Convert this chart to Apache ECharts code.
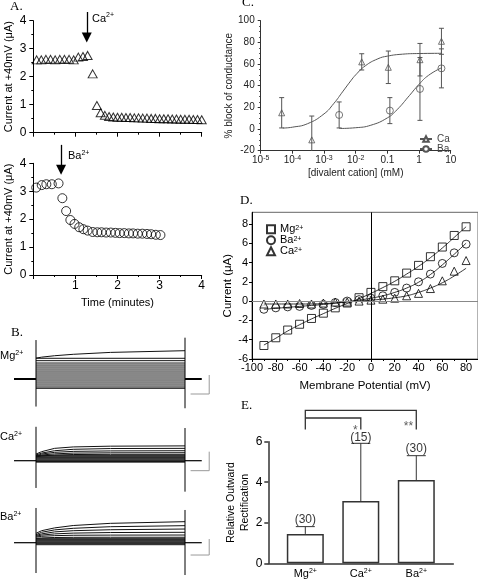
<!DOCTYPE html>
<html><head><meta charset="utf-8">
<script src="https://cdn.jsdelivr.net/npm/echarts@6/dist/echarts.min.js"></script>
<style>html,body{margin:0;padding:0;background:#fff}#c{width:478px;height:586px}</style>
</head><body><div id="c"></div>
<script>
const FONT = '"Liberation Sans", Arial, sans-serif';
const SERIF = '"Liberation Serif", "Times New Roman", serif';

// ---------- Panel A ----------
const caTime = [0.08,0.19,0.3,0.41,0.52,0.63,0.74,0.85,0.96,1.07,1.18,1.29,1.41,1.51,1.6,1.7,1.8,1.9,2.0,2.1,2.2,2.3,2.4,2.5,2.6,2.7,2.8,2.9,3.0,3.1,3.2,3.3,3.4,3.5,3.6,3.7,3.8,3.9,4.0];
const caCurrent = [2.6,2.6,2.62,2.62,2.6,2.62,2.62,2.62,2.6,2.7,2.72,2.76,2.1,0.97,0.71,0.62,0.58,0.56,0.55,0.55,0.54,0.54,0.53,0.53,0.52,0.52,0.51,0.51,0.5,0.5,0.5,0.49,0.49,0.48,0.48,0.48,0.47,0.47,0.46];
const baTime = [0.07,0.2,0.31,0.44,0.6,0.69,0.78,0.88,0.98,1.09,1.19,1.29,1.41,1.52,1.62,1.73,1.84,1.95,2.05,2.16,2.27,2.37,2.48,2.59,2.7,2.8,2.91,3.02];
const baCurrent = [3.13,3.22,3.25,3.25,3.28,2.75,2.29,1.97,1.83,1.71,1.64,1.59,1.54,1.53,1.53,1.52,1.52,1.51,1.5,1.5,1.49,1.49,1.48,1.48,1.47,1.46,1.44,1.43];
const caApplied = 1.27;   // min
const baApplied = 0.66;   // min

// ---------- Panel B (current traces, µA vs ms) ----------
const traceTimes = [0, 30, 100, 200, 400, 800];
const mgRising = [[2.2, 2.3, 2.45, 2.6, 2.8, 2.98]];
const mgSteady = [2.18,1.93,1.68,1.47,1.26,1.05,0.84,0.63,0.42,0.21,0,-0.21,-0.42,-0.63,-0.84,-0.98];
const caRising = [[0.7,0.95,1.3,1.45,1.53,1.56],[0.6,0.8,1.05,1.2,1.28,1.3],[0.5,0.7,0.88,0.98,1.03,1.05],[0.45,0.6,0.72,0.8,0.83,0.84],[0.4,0.5,0.6,0.65,0.67,0.67]];
const caSteady = [0.53,0.42,0.32,0.21,0.1,0,-0.08,-0.15];
const baRising = [[1.17,1.5,1.85,2.15,2.42,2.63],[1.0,1.3,1.6,1.8,2.0,2.13],[0.9,1.1,1.35,1.5,1.62,1.71],[0.8,0.95,1.1,1.2,1.27,1.3],[0.7,0.8,0.88,0.93,0.95,0.96],[0.55,0.6,0.65,0.67,0.68,0.68]];
const baSteady = [0.5,0.38,0.25,0.12,0,-0.12,-0.25];
const mgEdges = [[4.1,-2.9],[4.35,-3.08]];
const caEdges = [[3.57,-2.87],[3.44,-3.26]];
const baEdges = [[4.34,-3.79],[4.09,-4.04]];
const pulseEnd = 800, holdStart = -118, holdEnd = 890;
const scaleMs = 100, scaleUA = 2;
const mgScaleBase = -1.58, caScaleBase = -1.05, baScaleBase = -1.54;

// ---------- Panel C ----------
const caConc = [4.6e-5, 4.1e-4, 0.0155, 0.107, 1.07, 5.1];
const caBlock = [15, -10, 62, 57, 64, 81];
const caBlockErr = [14, 22, 7.5, 15, 15, 12];
const baConc = [0.003, 0.12, 1.07, 5.1];
const baBlock = [13, 17, 37, 56];
const baBlockErr = [12, 12, 29, 18];
const caFitConc = [5e-5,1e-4,3e-4,1e-3,2e-3,4e-3,7e-3,0.01,0.02,0.05,0.1,0.3,1,5.1];
const caFitBlock = [0.9,1.7,4.9,14,23.3,35,44.5,50,58.3,64.8,67.3,69.1,69.7,69.9];
const baFitConc = [0.003,0.01,0.03,0.1,0.2,0.5,1,2,5.1];
const baFitBlock = [0.5,1.2,3.5,10.3,17.7,31,41.3,49.6,56.5];

// ---------- Panel D ----------
const vm = [-90,-80,-70,-60,-50,-40,-30,-20,-10,0,10,20,30,40,50,60,70,80];
const ivMg = [-4.6,-3.8,-3.0,-2.4,-1.8,-1.25,-0.7,-0.2,0.35,0.9,1.5,2.1,2.9,3.7,4.6,5.6,6.8,7.7];
const ivBa = [-0.85,-0.7,-0.6,-0.55,-0.45,-0.35,-0.15,0,0.15,0.3,0.55,0.9,1.35,2.0,2.8,3.9,5.0,5.9];
const ivCa = [-0.3,-0.3,-0.3,-0.25,-0.3,-0.2,-0.1,-0.1,0,0.1,0.2,0.3,0.55,0.8,1.3,2.1,3.1,4.2];
const fitMg = [-4.55,-3.85,-3.1,-2.45,-1.85,-1.3,-0.75,-0.25,0.25,0.8,1.4,2.05,2.8,3.6,4.5,5.5,6.6,7.7];
const fitBa = [-0.85,-0.75,-0.65,-0.55,-0.45,-0.35,-0.2,-0.05,0.1,0.3,0.55,0.9,1.35,1.95,2.75,3.75,4.85,6.0];
const fitCa = [-0.3,-0.3,-0.3,-0.3,-0.3,-0.25,-0.2,-0.1,0,0.1,0.2,0.35,0.55,0.9,1.35,1.9,2.6,3.4];

// ---------- Panel E ----------
const eCats = ['Mg','Ca','Ba'];
const eValues = [1.45, 3.07, 4.11];
const eErr = [0.36, 2.85, 1.2];
const eN = ['(30)','(15)','(30)'];
const eNLevel = [2.14, 6.2, 5.67];
const bracketOuter = [[0,6.6],[0,7.55],[2,7.55],[2,6.6]];
const bracketInner = [[0,7.17],[1,7.17],[1,6.6]];
const stars = [[0.9,6.53,'*'],[1.86,6.74,'**']];

// ---------- helpers ----------
function sup(size, lh, color) {
  const raise = Math.round(size * 0.36);
  return {
    b: {fontSize: size, lineHeight: lh, fontFamily: FONT, color: color || '#000'},
    s: {fontSize: Math.round(size * 0.65), lineHeight: Math.max(1, lh - 2 * raise), verticalAlign: 'top', fontFamily: FONT, color: color || '#000'}
  };
}
function traceSeries(grid, rising, steady, edges, scaleBase, baseWidth) {
  const traces = [];
  rising.forEach(r => traces.push({coords: traceTimes.map((t, i) => [t, r[i]])}));
  steady.forEach(v => traces.push({coords: [[0, v], [pulseEnd, v]]}));
  const common = {type: 'lines', coordinateSystem: 'cartesian2d', xAxisIndex: grid, yAxisIndex: grid, polyline: true, silent: true, clip: false};
  return [
    Object.assign({}, common, {data: traces, lineStyle: {color: '#111', width: 1, opacity: 1}}),
    Object.assign({}, common, {data: [
      {coords: [[0, edges[0][0]], [0, edges[0][1]]]},
      {coords: [[pulseEnd, edges[1][0]], [pulseEnd, edges[1][1]]]}
    ], lineStyle: {color: '#000', width: 1, opacity: 1}}),
    Object.assign({}, common, {data: [
      {coords: [[holdStart, 0], [0, 0]]},
      {coords: [[pulseEnd, 0], [holdEnd, 0]]}
    ], lineStyle: {color: '#000', width: baseWidth, opacity: 1}}),
    Object.assign({}, common, {data: [
      {coords: [[930 - scaleMs, scaleBase], [930, scaleBase], [930, scaleBase + scaleUA]]}
    ], lineStyle: {color: '#999', width: 1, opacity: 1}})
  ];
}
function errRender(capHalf, color, twoSided) {
  return function (params, api) {
    const x = api.value(0), y = api.value(1), e = api.value(2);
    const p1 = api.coord([x, y + e]);
    const p2 = twoSided ? api.coord([x, y - e]) : api.coord([x, y]);
    const st = {stroke: color, lineWidth: 1};
    const ch = [
      {type: 'line', shape: {x1: p1[0], y1: p1[1], x2: p2[0], y2: p2[1]}, style: st},
      {type: 'line', shape: {x1: p1[0] - capHalf, y1: p1[1], x2: p1[0] + capHalf, y2: p1[1]}, style: st}
    ];
    if (twoSided) ch.push({type: 'line', shape: {x1: p2[0] - capHalf, y1: p2[1], x2: p2[0] + capHalf, y2: p2[1]}, style: st});
    return {type: 'group', children: ch};
  };
}

function aX(grid, labels) {
  return {gridIndex: grid, type: 'value', min: 0, max: 4, interval: 1,
    axisLine: {onZero: false, lineStyle: {color: '#000'}}, axisTick: {show: true, length: 4, lineStyle: {color: '#000'}},
    minorTick: {show: true, splitNumber: 2, length: 2, lineStyle: {color: '#000'}},
    splitLine: {show: false},
    axisLabel: labels ? {fontSize: 12, color: '#000', margin: 5, showMinLabel: false, fontFamily: FONT} : {show: false},
    name: labels ? 'Time (minutes)' : '', nameLocation: 'middle', nameGap: 22,
    nameTextStyle: {fontSize: 11, color: '#000', fontFamily: FONT}};
}
function aY(grid) {
  return {gridIndex: grid, type: 'value', min: 0, max: 4, interval: 1,
    axisLine: {show: true, onZero: false, lineStyle: {color: '#000'}}, axisTick: {show: true, length: 4, lineStyle: {color: '#000'}},
    minorTick: {show: true, splitNumber: 2, length: 2, lineStyle: {color: '#000'}},
    splitLine: {show: false},
    axisLabel: {fontSize: 12, color: '#000', margin: 7, fontFamily: FONT},
    name: 'Current at +40mV (\u03bcA)', nameLocation: 'middle', nameGap: 19,
    nameTextStyle: {fontSize: 11, color: '#000', fontFamily: FONT}};
}
function hidden(grid, min, max) { return {gridIndex: grid, type: 'value', min: min, max: max, show: false}; }

const C_COL = '#555';
const option = {
  animation: false,
  textStyle: {fontFamily: FONT},
  grid: [
    {left: 33.3, top: 20.7, width: 168.4, height: 112},
    {left: 33.3, top: 163.3, width: 168.4, height: 111.7},
    {left: 13.65, top: 331.5, width: 208.6, height: 85.5},
    {left: 13.65, top: 413.2, width: 208.6, height: 85.5},
    {left: 13.65, top: 498.7, width: 208.6, height: 84},
    {left: 260.7, top: 20.7, width: 190, height: 130},
    {left: 252, top: 212.3, width: 226, height: 146.7, show: true, borderColor: '#666', borderWidth: 1},
    {left: 268.3, top: 441.7, width: 185, height: 121.6}
  ],
  xAxis: [
    aX(0, false), aX(1, true),
    hidden(2, -120, 1000), hidden(3, -120, 1000), hidden(4, -120, 1000),
    {gridIndex: 5, type: 'log', logBase: 10, min: 1e-5, max: 10,
      axisLine: {onZero: false, lineStyle: {color: '#333'}}, axisTick: {length: 3, lineStyle: {color: '#333'}},
      splitLine: {show: false}, minorTick: {show: false},
      axisLabel: {margin: 4, color: '#222', rich: sup(10, 12, '#222'), formatter: function (v) {
        const e = Math.round(Math.log10(v));
        if (e <= -2) return '{b|10}{s|' + e + '}';
        if (e === -1) return '{b|0.1}';
        if (e === 0) return '{b|1}';
        return '{b|10}';
      }},
      name: '[divalent cation] (mM)', nameLocation: 'middle', nameGap: 18,
      nameTextStyle: {fontSize: 10, color: '#222'}},
    {gridIndex: 6, type: 'value', min: -100, max: 90, interval: 20,
      axisLine: {onZero: false, lineStyle: {color: '#000'}}, axisTick: {length: 3, lineStyle: {color: '#000'}},
      minorTick: {show: true, splitNumber: 2, length: 2, lineStyle: {color: '#000'}},
      splitLine: {show: false},
      axisLabel: {fontSize: 11, color: '#000', margin: 3, showMaxLabel: false},
      name: 'Membrane Potential (mV)', nameLocation: 'middle', nameGap: 21,
      nameTextStyle: {fontSize: 11.5, color: '#000'}},
    {gridIndex: 7, type: 'value', min: -0.667, max: 2.667,
      axisLine: {onZero: false, lineStyle: {color: '#333', width: 1.5}}, axisTick: {show: false},
      splitLine: {show: false},
      axisLabel: {customValues: [0, 1, 2], margin: 4, rich: sup(11, 13, '#000'),
        formatter: function (v) { return '{b|' + eCats[Math.round(v)] + '}{s|2+}'; }}}
  ],
  yAxis: [
    aY(0), aY(1),
    hidden(2, -4, 5), hidden(3, -4, 5), hidden(4, -5, 5.5),
    {gridIndex: 5, type: 'value', min: -20, max: 100, interval: 20,
      axisLine: {show: true, onZero: false, lineStyle: {color: '#333'}}, axisTick: {show: true, length: 3, lineStyle: {color: '#333'}},
      minorTick: {show: true, splitNumber: 4, length: 1.5, lineStyle: {color: '#333'}},
      splitLine: {show: false},
      axisLabel: {fontSize: 10, color: '#222', margin: 6},
      name: '% block of conductance', nameLocation: 'middle', nameGap: 25,
      nameTextStyle: {fontSize: 10, color: '#222'}},
    {gridIndex: 6, type: 'value', min: -6, max: 9.2, interval: 2,
      axisLine: {show: true, onZero: false, lineStyle: {color: '#000'}}, axisTick: {show: true, length: 3, lineStyle: {color: '#000'}},
      splitLine: {show: false},
      axisLabel: {fontSize: 11, color: '#000', margin: 4, showMaxLabel: false},
      name: 'Current (\u03bcA)', nameLocation: 'middle', nameGap: 15,
      nameTextStyle: {fontSize: 11.5, color: '#000'}},
    {gridIndex: 7, type: 'value', min: 0, max: 6, interval: 2,
      axisLine: {show: true, onZero: false, lineStyle: {color: '#333', width: 1.5}}, axisTick: {show: true, length: 4, lineStyle: {color: '#333', width: 1.5}},
      splitLine: {show: false},
      axisLabel: {fontSize: 12, color: '#000', margin: 6},
      name: 'Relative Outward\nRectification', nameLocation: 'middle', nameGap: 13,
      nameTextStyle: {fontSize: 10.5, color: '#000', lineHeight: 14}}
  ],
  legend: [
    {data: ['Ca', 'Ba'], orient: 'vertical', left: 414, top: 129, itemWidth: 12, itemHeight: 7, itemGap: 0,
      selectedMode: false, textStyle: {fontSize: 10, color: '#444', lineHeight: 8}},
    {data: ['Mg', 'Ba ', 'Ca '], orient: 'vertical', left: 261, top: 218.8, itemWidth: 8, itemHeight: 8, itemGap: 0,
      selectedMode: false, formatter: function (n) { return '{b|' + n.trim() + '}{s|2+}'; },
      textStyle: {rich: sup(11, 9, '#000')}}
  ],
  series: [
    // A
    {type: 'scatter', xAxisIndex: 0, yAxisIndex: 0, data: caTime.map((t, i) => [t, caCurrent[i]]), symbol: 'triangle', symbolSize: [9, 8],
      itemStyle: {color: 'rgba(0,0,0,0)', borderColor: '#000', borderWidth: 1}, clip: false, silent: true},
    {type: 'scatter', xAxisIndex: 1, yAxisIndex: 1, data: baTime.map((t, i) => [t, baCurrent[i]]), symbol: 'circle', symbolSize: 9,
      itemStyle: {color: 'rgba(0,0,0,0)', borderColor: '#000', borderWidth: 1}, clip: false, silent: true},
    {type: 'lines', coordinateSystem: 'cartesian2d', xAxisIndex: 0, yAxisIndex: 0, clip: false, silent: true,
      data: [{coords: [[caApplied, 4.31], [caApplied, 3.4]]}], symbol: ['none', 'triangle'], symbolSize: 10,
      lineStyle: {color: '#000', width: 1.3, opacity: 1}},
    {type: 'lines', coordinateSystem: 'cartesian2d', xAxisIndex: 1, yAxisIndex: 1, clip: false, silent: true,
      data: [{coords: [[baApplied, 4.66], [baApplied, 3.77]]}], symbol: ['none', 'triangle'], symbolSize: 10,
      lineStyle: {color: '#000', width: 1.3, opacity: 1}},
    // B
    ...traceSeries(2, mgRising, mgSteady, mgEdges, mgScaleBase, 2),
    ...traceSeries(3, caRising, caSteady, caEdges, caScaleBase, 1.2),
    ...traceSeries(4, baRising, baSteady, baEdges, baScaleBase, 1.2),
    // C
    {type: 'custom', xAxisIndex: 5, yAxisIndex: 5, clip: true, silent: true, renderItem: errRender(2.5, C_COL, true),
      data: caConc.map((c, i) => [c, caBlock[i], caBlockErr[i]]), encode: {x: 0, y: 1}},
    {type: 'custom', xAxisIndex: 5, yAxisIndex: 5, clip: true, silent: true, renderItem: errRender(2.5, C_COL, true),
      data: baConc.map((c, i) => [c, baBlock[i], baBlockErr[i]]), encode: {x: 0, y: 1}},
    {name: 'Ca', type: 'line', xAxisIndex: 5, yAxisIndex: 5, data: caFitConc.map((c, i) => [c, caFitBlock[i]]), smooth: true,
      showSymbol: false, symbol: 'triangle', symbolSize: 6, lineStyle: {color: C_COL, width: 1}, itemStyle: {color: '#fff', borderColor: C_COL, borderWidth: 1}, silent: true},
    {name: 'Ba', type: 'line', xAxisIndex: 5, yAxisIndex: 5, data: baFitConc.map((c, i) => [c, baFitBlock[i]]), smooth: true,
      showSymbol: false, symbol: 'circle', symbolSize: 6, lineStyle: {color: C_COL, width: 1}, itemStyle: {color: '#fff', borderColor: C_COL, borderWidth: 1}, silent: true},
    {type: 'scatter', xAxisIndex: 5, yAxisIndex: 5, data: caConc.map((c, i) => [c, caBlock[i]]), symbol: 'triangle', symbolSize: 6,
      itemStyle: {color: 'rgba(0,0,0,0)', borderColor: C_COL, borderWidth: 1}, silent: true},
    {type: 'scatter', xAxisIndex: 5, yAxisIndex: 5, data: baConc.map((c, i) => [c, baBlock[i]]), symbol: 'circle', symbolSize: 7,
      itemStyle: {color: 'rgba(0,0,0,0)', borderColor: C_COL, borderWidth: 1}, silent: true},
    // D
    {type: 'line', xAxisIndex: 6, yAxisIndex: 6, data: vm.map((v, i) => [v, fitMg[i]]), smooth: true, showSymbol: false, lineStyle: {color: '#000', width: 0.8}, silent: true,
      markLine: {silent: true, symbol: 'none', label: {show: false}, data: [
        {xAxis: 0, lineStyle: {color: '#000', width: 1, type: 'solid'}},
        {yAxis: 0, lineStyle: {color: '#888', width: 1, type: 'solid'}}]}},
    {type: 'line', xAxisIndex: 6, yAxisIndex: 6, data: vm.map((v, i) => [v, fitBa[i]]), smooth: true, showSymbol: false, lineStyle: {color: '#000', width: 0.8}, silent: true},
    {type: 'line', xAxisIndex: 6, yAxisIndex: 6, data: vm.map((v, i) => [v, fitCa[i]]), smooth: true, showSymbol: false, lineStyle: {color: '#000', width: 0.8}, silent: true},
    {name: 'Mg', type: 'scatter', xAxisIndex: 6, yAxisIndex: 6, data: vm.map((v, i) => [v, ivMg[i]]), symbol: 'rect', symbolSize: 8,
      itemStyle: {color: '#fff', borderColor: '#000', borderWidth: 1}, silent: true},
    {name: 'Ba ', type: 'scatter', xAxisIndex: 6, yAxisIndex: 6, data: vm.map((v, i) => [v, ivBa[i]]), symbol: 'circle', symbolSize: 8,
      itemStyle: {color: '#fff', borderColor: '#000', borderWidth: 1}, silent: true},
    {name: 'Ca ', type: 'scatter', xAxisIndex: 6, yAxisIndex: 6, data: vm.map((v, i) => [v, ivCa[i]]), symbol: 'triangle', symbolSize: 8,
      itemStyle: {color: '#fff', borderColor: '#000', borderWidth: 1}, silent: true},
    // E
    {type: 'bar', xAxisIndex: 7, yAxisIndex: 7, data: eValues.map((v, i) => [i, v]), barWidth: 37,
      itemStyle: {color: '#fff', borderColor: '#333', borderWidth: 1.5}, silent: true},
    {type: 'custom', xAxisIndex: 7, yAxisIndex: 7, clip: false, silent: true, renderItem: errRender(9.5, '#333', false),
      data: eValues.map((v, i) => [i, v, eErr[i]]), encode: {x: 0, y: 1}},
    {type: 'lines', coordinateSystem: 'cartesian2d', xAxisIndex: 7, yAxisIndex: 7, polyline: true, clip: false, silent: true,
      data: [{coords: bracketOuter}, {coords: bracketInner}], lineStyle: {color: '#333', width: 1.3, opacity: 1}},
    {type: 'scatter', xAxisIndex: 7, yAxisIndex: 7, clip: false, silent: true, symbolSize: 0,
      data: eNLevel.map((y, i) => [i, y, eN[i]]),
      label: {show: true, position: 'inside', formatter: p => p.value[2], fontSize: 12, color: '#000'}},
    {type: 'scatter', xAxisIndex: 7, yAxisIndex: 7, clip: false, silent: true, symbolSize: 0,
      data: stars,
      label: {show: true, position: 'inside', formatter: p => p.value[2], fontSize: 12, color: '#333'}}
  ],
  graphic: [
    {type: 'text', left: 10, top: 0, style: {text: 'A.', fontSize: 13, fontFamily: SERIF, fill: '#000'}},
    {type: 'text', left: 11, top: 326, style: {text: 'B.', fontSize: 13, fontFamily: SERIF, fill: '#000'}},
    {type: 'text', left: 242, top: -4, style: {text: 'C.', fontSize: 13, fontFamily: SERIF, fill: '#000'}},
    {type: 'text', left: 240, top: 194, style: {text: 'D.', fontSize: 13, fontFamily: SERIF, fill: '#000'}},
    {type: 'text', left: 241, top: 399, style: {text: 'E.', fontSize: 13, fontFamily: SERIF, fill: '#000'}},
    {type: 'text', left: 92, top: 12, style: {text: '{b|Ca}{s|2+}', rich: sup(11, 13)}},
    {type: 'text', left: 68, top: 149.5, style: {text: '{b|Ba}{s|2+}', rich: sup(11, 13)}},
    {type: 'text', left: 0, top: 349.5, style: {text: '{b|Mg}{s|2+}', rich: sup(11, 13)}},
    {type: 'text', left: 0, top: 430.5, style: {text: '{b|Ca}{s|2+}', rich: sup(11, 13)}},
    {type: 'text', left: 0, top: 510.5, style: {text: '{b|Ba}{s|2+}', rich: sup(11, 13)}}
  ]
};
const chart = echarts.init(document.getElementById('c'), null, {renderer: 'canvas'});
chart.setOption(option);
</script></body></html>
